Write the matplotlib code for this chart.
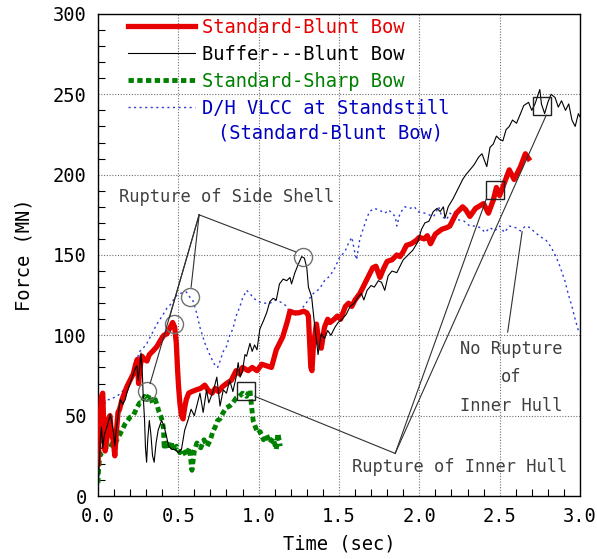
import matplotlib
matplotlib.use("Agg")
import matplotlib.pyplot as plt
from matplotlib.ticker import MultipleLocator

plt.rcParams["font.family"] = ["DejaVu Sans Mono"]

# Standard-Blunt Bow (red)
red_t = [0.000, 0.012, 0.022, 0.030, 0.038, 0.045, 0.055, 0.065, 0.075, 0.085,
         0.095, 0.105, 0.115, 0.125, 0.135, 0.150, 0.165, 0.180, 0.200, 0.220,
         0.235, 0.245, 0.253, 0.262, 0.274, 0.290, 0.305, 0.320, 0.340, 0.367,
         0.390, 0.410, 0.430, 0.450, 0.465, 0.478, 0.488, 0.495, 0.502, 0.510,
         0.520, 0.530, 0.540, 0.550, 0.565, 0.585, 0.610, 0.640, 0.665, 0.685,
         0.710, 0.730, 0.750, 0.775, 0.800, 0.830, 0.860, 0.880, 0.900, 0.935,
         0.960, 0.990, 1.020, 1.050, 1.080, 1.110, 1.150, 1.180, 1.195, 1.220,
         1.250, 1.280, 1.300, 1.310, 1.318, 1.325, 1.332, 1.340, 1.350, 1.360,
         1.375, 1.390, 1.410, 1.430, 1.445, 1.470, 1.490, 1.510, 1.540, 1.560,
         1.580, 1.600, 1.630, 1.660, 1.690, 1.710, 1.730, 1.755, 1.780, 1.800,
         1.830, 1.860, 1.880, 1.900, 1.920, 1.950, 1.980, 2.000, 2.030, 2.050,
         2.070, 2.100, 2.140, 2.170, 2.190, 2.230, 2.270, 2.290, 2.315, 2.350,
         2.400, 2.430, 2.460, 2.480, 2.500, 2.530, 2.560, 2.590, 2.630, 2.660,
         2.680]
red_f = [20, 45, 62, 64, 38, 28, 35, 48, 50, 38,
         35, 25, 40, 52, 54, 60, 64, 68, 72, 76,
         82, 85, 70, 80, 87, 85, 84, 88, 90, 93,
         97, 100, 101, 105, 108, 105, 95, 80, 68, 58,
         50, 48, 55, 60, 64, 65, 66, 67, 69, 66,
         64, 67, 65, 68, 70, 72, 78, 76, 80, 78,
         80, 78, 82, 81, 80, 91, 99, 109, 115, 114,
         114, 115, 114, 112, 95, 80, 78, 92, 100, 107,
         96, 92, 105, 110, 108, 110, 112, 110, 118, 120,
         118, 122, 126, 132, 138, 142, 143, 136, 142, 146,
         147, 150, 149, 152, 156, 157, 159, 161, 160, 162,
         157, 163, 166, 167, 168, 176, 180, 178, 174, 179,
         182, 176, 184, 192, 187, 195, 203, 197, 205, 213,
         210]

# Buffer---Blunt Bow (black)
blk_t = [0.000, 0.008, 0.015, 0.022, 0.030, 0.040, 0.056, 0.070, 0.077, 0.088,
         0.098, 0.105, 0.115, 0.128, 0.140, 0.155, 0.170, 0.180, 0.200, 0.220,
         0.235, 0.243, 0.250, 0.260, 0.268, 0.275, 0.282, 0.290, 0.296, 0.303,
         0.310, 0.320, 0.330, 0.340, 0.350, 0.362, 0.375, 0.396, 0.410, 0.425,
         0.440, 0.460, 0.480, 0.500, 0.520, 0.540, 0.560, 0.580, 0.600, 0.620,
         0.635, 0.655, 0.676, 0.690, 0.705, 0.720, 0.740, 0.760, 0.780, 0.800,
         0.820, 0.840, 0.860, 0.873, 0.885, 0.900, 0.915, 0.925, 0.946, 0.960,
         0.975, 0.990, 1.008, 1.030, 1.050, 1.070, 1.090, 1.110, 1.130, 1.153,
         1.175, 1.195, 1.205, 1.226, 1.246, 1.268, 1.285, 1.300, 1.310, 1.330,
         1.350, 1.360, 1.370, 1.380, 1.390, 1.410, 1.430, 1.450, 1.475, 1.495,
         1.520, 1.545, 1.570, 1.595, 1.620, 1.640, 1.655, 1.675, 1.700, 1.720,
         1.745, 1.765, 1.785, 1.806, 1.830, 1.860, 1.880, 1.900, 1.930, 1.960,
         1.990, 2.014, 2.035, 2.060, 2.087, 2.110, 2.130, 2.150, 2.160, 2.180,
         2.210, 2.240, 2.270, 2.290, 2.315, 2.340, 2.370, 2.390, 2.420, 2.440,
         2.460, 2.480, 2.500, 2.520, 2.540, 2.560, 2.580, 2.605, 2.630, 2.650,
         2.680, 2.700, 2.720, 2.740, 2.750, 2.760, 2.780, 2.800, 2.820, 2.845,
         2.865, 2.885, 2.910, 2.930, 2.950, 2.970, 2.990, 3.000]
blk_f = [2, 20, 35, 43, 30, 38, 43, 48, 51, 45,
         39, 31, 42, 52, 60, 57, 60, 64, 70, 76,
         80, 81, 72, 80, 89, 80, 62, 48, 30, 21,
         35, 47, 38, 25, 21, 33, 41, 47, 44, 38,
         31, 29, 29, 27, 29, 41, 47, 54, 50, 58,
         64, 52, 66, 58, 62, 66, 74, 56, 66, 64,
         72, 65, 74, 83, 74, 78, 88, 87, 95, 90,
         94, 91, 104, 109, 114, 121, 123, 122, 132, 135,
         134, 136, 132, 139, 144, 149, 148, 142, 130, 124,
         105, 97, 88, 95, 101, 98, 103, 100, 105, 108,
         110, 113, 118, 120, 124, 126, 122, 128, 131, 130,
         134, 133, 128, 137, 140, 139, 143, 147, 150, 153,
         158, 166, 170, 171, 177, 179, 177, 180, 173, 180,
         185, 191, 197, 200, 203, 206, 211, 213, 205, 217,
         219, 224, 222, 221, 228, 230, 234, 232, 238, 243,
         245, 240, 244, 250, 253, 244, 238, 245, 250, 248,
         242, 246, 240, 244, 234, 230, 238, 236]

# Standard-Sharp Bow (green)
grn_t = [0.000, 0.005, 0.012, 0.025, 0.040, 0.056, 0.075, 0.090, 0.105, 0.118,
         0.135, 0.150, 0.170, 0.185, 0.200, 0.220, 0.243, 0.260, 0.274, 0.290,
         0.305, 0.320, 0.340, 0.357, 0.370, 0.378, 0.390, 0.400, 0.408, 0.412,
         0.425, 0.440, 0.455, 0.470, 0.490, 0.510, 0.530, 0.550, 0.570, 0.585,
         0.600, 0.616, 0.640, 0.660, 0.680, 0.700, 0.715, 0.730, 0.745, 0.760,
         0.780, 0.800, 0.820, 0.840, 0.860, 0.880, 0.900, 0.925, 0.946, 0.956,
         0.966, 0.980, 0.995, 1.010, 1.030, 1.050, 1.070, 1.090, 1.110, 1.120,
         1.135]
grn_f = [8, 18, 25, 27, 28, 31, 30, 33, 32, 35,
         38, 41, 45, 47, 49, 50, 55, 58, 58, 62,
         60, 63, 58, 60, 56, 53, 50, 47, 42, 31,
         33, 29, 34, 28, 31, 27, 29, 25, 30, 16,
         28, 33, 30, 35, 31, 35, 40, 43, 47, 48,
         52, 55, 56, 58, 61, 62, 64, 62, 66, 56,
         47, 43, 39, 40, 35, 38, 33, 36, 29, 39,
         31]

# D/H VLCC at Standstill (Standard-Blunt Bow) (blue)
blu_t = [0.000, 0.010, 0.025, 0.045, 0.060, 0.077, 0.095, 0.118, 0.140, 0.160,
         0.180, 0.210, 0.243, 0.260, 0.274, 0.305, 0.336, 0.367, 0.400, 0.430,
         0.460, 0.480, 0.510, 0.550, 0.570, 0.590, 0.614, 0.635, 0.666, 0.700,
         0.730, 0.745, 0.760, 0.780, 0.800, 0.820, 0.840, 0.860, 0.884, 0.900,
         0.925, 0.946, 0.970, 1.000, 1.030, 1.070, 1.090, 1.110, 1.150, 1.175,
         1.195, 1.220, 1.250, 1.280, 1.310, 1.340, 1.380, 1.410, 1.444, 1.475,
         1.506, 1.537, 1.558, 1.580, 1.600, 1.610, 1.630, 1.650, 1.670, 1.690,
         1.720, 1.750, 1.786, 1.810, 1.850, 1.860, 1.880, 1.910, 1.940, 1.970,
         1.990, 2.035, 2.060, 2.090, 2.120, 2.140, 2.170, 2.190, 2.210, 2.240,
         2.280, 2.315, 2.350, 2.380, 2.410, 2.440, 2.470, 2.500, 2.530, 2.560,
         2.600, 2.630, 2.660, 2.690, 2.720, 2.760, 2.790, 2.820, 2.850, 2.875,
         2.906, 2.926, 2.950, 2.970, 2.990]
blu_f = [2, 20, 39, 58, 60, 60, 61, 62, 64, 66,
         68, 74, 85, 90, 91, 95, 101, 107, 112, 117,
         120, 124, 126, 127, 124, 122, 114, 105, 95, 87,
         81, 80, 84, 90, 93, 100, 104, 112, 118, 123,
         128, 126, 123, 121, 120, 120, 121, 122, 120, 118,
         114, 112, 114, 118, 122, 126, 129, 134, 137, 142,
         149, 152, 157, 161, 151, 147, 160, 166, 172, 177,
         179, 178, 176, 178, 174, 168, 176, 180, 179, 180,
         177, 176, 175, 174, 180, 174, 172, 176, 175, 172,
         171, 168, 168, 167, 164, 167, 165, 168, 164, 168,
         167, 165, 168, 167, 164, 161, 159, 155, 149, 143,
         134, 126, 118, 110, 103]

# rupture markers: circles = side shell, squares = inner hull
circ_t = [0.305, 0.471, 0.57, 1.278]
circ_f = [65.5, 107, 124, 149]
sq_t = [0.924, 2.47, 2.763]
sq_f = [65.6, 190.6, 242.7]

# leader lines
side_apex = (0.63, 175)
side_ends = [(0.325, 70), (0.445, 111), (0.58, 130), (1.23, 152)]
hull_apex = (1.85, 26.5)
hull_ends = [(0.977, 62), (2.418, 185.2), (2.79, 237)]
norupt_line = [(2.55, 102), (2.64, 164.5)]

fig = plt.figure(figsize=(5.97, 5.59), dpi=100)
ax = fig.add_axes([0.164, 0.1127, 0.8075, 0.8623])

ax.plot(blu_t, blu_f, color="#2a3ad6", lw=1.0, ls=(0, (1.5, 2.5)),
        label="D/H VLCC at Standstill", zorder=3)
ax.plot(grn_t, grn_f, color="#008000", lw=3.5, ls=(0, (1.1, 0.7)),
        label="Standard-Sharp Bow", zorder=4)
ax.plot(red_t, red_f, color="#e60000", lw=3.8, solid_joinstyle="round",
        label="Standard-Blunt Bow", zorder=5)
ax.plot(blk_t, blk_f, color="black", lw=0.8,
        label="Buffer---Blunt Bow", zorder=6)

ax.plot(circ_t, circ_f, ls="none", marker="o", ms=13, mfc="none",
        mec="#707070", mew=1.0, zorder=7)
ax.plot(sq_t, sq_f, ls="none", marker="s", ms=12.5, mfc="none",
        mec="#202020", mew=1.0, zorder=7)

for e in side_ends:
    ax.plot([side_apex[0], e[0]], [side_apex[1], e[1]], color="#303030",
            lw=0.8, zorder=7)
for e in hull_ends:
    ax.plot([hull_apex[0], e[0]], [hull_apex[1], e[1]], color="#303030",
            lw=0.8, zorder=7)
ax.plot([p[0] for p in norupt_line], [p[1] for p in norupt_line],
        color="#303030", lw=0.8, zorder=7)

ann = dict(color="#404040", fontsize=12.3)
ax.text(0.80, 186, "Rupture of Side Shell", ha="center", va="center", **ann)
ax.text(2.25, 18.2, "Rupture of Inner Hull", ha="center", va="center", **ann)
ax.text(2.574, 74, "No Rupture\nof\nInner Hull", ha="center", va="center",
        multialignment="center", linespacing=1.75, **ann)

h, l = ax.get_legend_handles_labels()
order = [2, 3, 1, 0]
leg = ax.legend([h[i] for i in order], [l[i] for i in order],
                loc="upper left", bbox_to_anchor=(0.042, 1.011), frameon=False,
                fontsize=13.5, handlelength=3.6, handletextpad=0.35,
                labelspacing=0.42, borderpad=0.0,
                labelcolor=["#e60000", "black", "#008000", "#0000c0"])
ax.text(0.249, 0.753, "(Standard-Blunt Bow)", transform=ax.transAxes,
        color="#0000c0", fontsize=13.5, ha="left", va="center")

ax.set_xlim(0, 3.0)
ax.set_ylim(0, 300)
ax.xaxis.set_major_locator(MultipleLocator(0.5))
ax.xaxis.set_minor_locator(MultipleLocator(0.1))
ax.yaxis.set_major_locator(MultipleLocator(50))
ax.yaxis.set_minor_locator(MultipleLocator(10))
ax.xaxis.set_major_formatter(lambda v, p: f"{v:.1f}")
ax.tick_params(which="both", direction="in", top=False, right=False,
               labelsize=13.5)
ax.tick_params(which="major", length=0, pad=8)
ax.tick_params(which="minor", length=5, width=0.8)
ax.grid(True, which="major", color="#707070", ls=(0, (1, 1.5)), lw=0.8)
for s in ax.spines.values():
    s.set_linewidth(1.0)

ax.set_xlabel("Time (sec)", fontsize=13.5, labelpad=6)
ax.set_ylabel("Force (MN)", fontsize=13.5, labelpad=14)

fig.savefig("out.png", dpi=100)
